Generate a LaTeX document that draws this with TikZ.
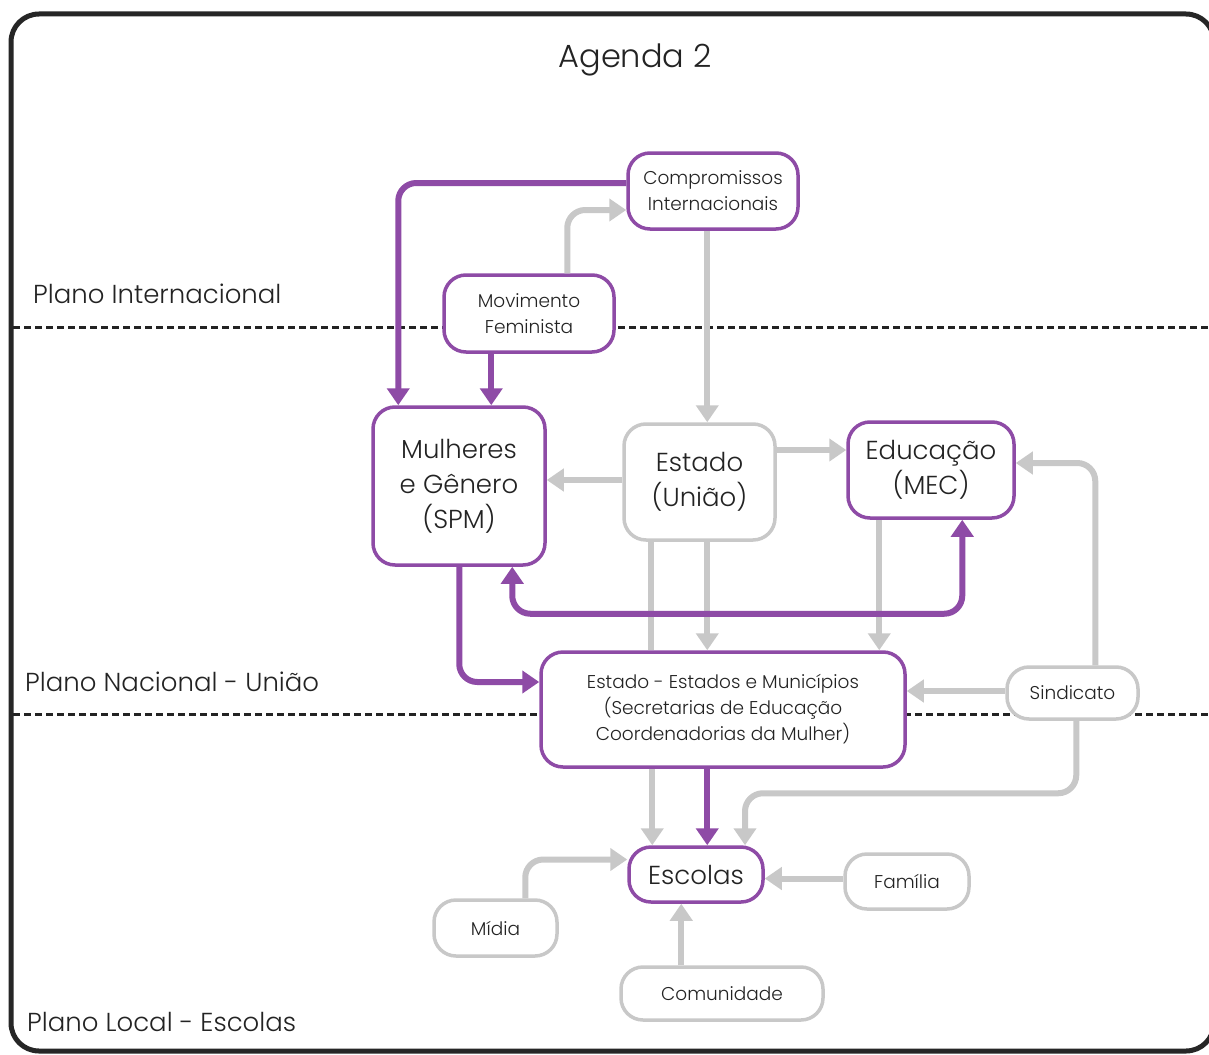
\documentclass[tikz,border=0pt]{standalone}
\usepackage{fontspec}
\setmainfont{Poppins}[UprightFont=* Light]
\usetikzlibrary{arrows.meta,calc}
\definecolor{roxo}{RGB}{142,75,166}
\definecolor{cinza}{RGB}{200,200,200}
\definecolor{texto}{RGB}{35,35,35}
\tikzset{
  box/.style={draw, rounded corners=22pt, line width=3.5pt, fill=white, align=center, text=texto, inner sep=0pt},
  pbox/.style={box, draw=roxo},
  gbox/.style={box, draw=cinza},
  parr/.style={draw=roxo, line width=6pt, rounded corners=18pt, -{Triangle[length=17pt,width=22pt]}},
  garr/.style={draw=cinza, line width=6pt, rounded corners=18pt, -{Triangle[length=17pt,width=22pt]}},
  gline/.style={draw=cinza, line width=6pt},
  small/.style={font=\fontsize{18.5}{26}\selectfont},
  big/.style={font=\fontsize{26}{35}\selectfont},
  plano/.style={font=\fontsize{26}{30}\selectfont, text=texto, anchor=west, inner sep=0pt},
  sep/.style={line width=3pt, dash pattern=on 7pt off 4pt, color=texto}
}
\begin{document}
\begin{tikzpicture}[x=1pt,y=-1pt]
\useasboundingbox (0,0) rectangle (1209,1054);
\fill[white] (0,0) rectangle (1209,1054);
% frame
\draw[line width=5pt, rounded corners=28pt, color=black!85] (11,14) rectangle (1214,1051);
% separators
\draw[sep] (13,327) -- (1209,327);
\draw[sep] (13,714) -- (1209,714);
% titles
\node[font=\fontsize{32}{36}\selectfont, text=texto, inner sep=0pt] (titulo) at (635,60) {Agenda 2};
\node[plano] (pint) at (33,294) {Plano Internacional};
\node[plano] (pnac) at (25,682) {Plano Nacional - União};
\node[plano] (ploc) at (27,1022) {Plano Local - Escolas};
% nodes
\node[pbox, small, minimum width=170pt, minimum height=76pt] (cmp) at (713,191) {Compromissos\\Internacionais};
\node[pbox, small, minimum width=170pt, minimum height=77pt] (mov) at (529,313.5) {Movimento\\Feminista};
\node[pbox, big, minimum width=172pt, minimum height=158pt] (mul) at (459,486) {Mulheres\\e Gênero\\(SPM)};
\node[gbox, big, minimum width=151pt, minimum height=116pt] (est) at (699.5,482) {Estado\\(União)};
\node[pbox, big, minimum width=166pt, minimum height=96pt] (edu) at (931,470) {Educação\\(MEC)};
\node[pbox, small, minimum width=364pt, minimum height=115pt] (ems) at (723,709.5) {Estado - Estados e Municípios\\(Secretarias de Educação\\Coordenadorias da Mulher)};
\node[gbox, small, minimum width=131pt, minimum height=52pt] (sin) at (1072.5,693) {Sindicato};
\node[pbox, big, minimum width=134pt, minimum height=55pt] (esc) at (696,874.5) {Escolas};
\node[gbox, small, minimum width=124pt, minimum height=55pt] (fam) at (907,881.5) {Família};
\node[gbox, small, minimum width=123pt, minimum height=56pt] (mid) at (495.5,928) {Mídia};
\node[gbox, small, minimum width=202pt, minimum height=53pt] (com) at (722,993.5) {Comunidade};
% connectors
\draw[parr] ($(cmp.west)+(0,-8)$) -| ($(mul.north west)+(27,0)$);
\draw[garr] ($(mov.north west)+(125,0)$) |- ($(cmp.west)+(0,19)$);
\draw[parr] ($(mov.south west)+(49,0)$) coordinate (m1) -- (m1 |- mul.north);
\draw[garr] ($(cmp.south west)+(81,0)$) coordinate (c1) -- (c1 |- est.north);
\draw[garr] ($(est.west)+(0,-2)$) coordinate (e1) -- (e1 -| mul.east);
\draw[garr] ($(est.east)+(0,-32)$) coordinate (e2) -- (e2 -| edu.west);
\draw[gline] ($(est.south west)+(29,0)$) coordinate (e3) -- (e3 |- ems.north);
\draw[garr] ($(ems.south west)+(113,0)$) coordinate (e4) -- (e4 |- esc.north);
\draw[garr] ($(est.south west)+(85,0)$) coordinate (e5) -- (e5 |- ems.north);
\draw[garr] ($(edu.south west)+(33,0)$) coordinate (d1) -- (d1 |- ems.north);
\draw[parr, {Triangle[length=17pt,width=22pt]}-{Triangle[length=17pt,width=22pt]}] ($(mul.south west)+(141,0)$) |- ($(edu.south west)+(116,94)$) -- ($(edu.south west)+(116,0)$);
\draw[parr] ($(mul.south west)+(88,0)$) |- ($(ems.west)+(0,-27.5)$);
\draw[garr] ($(sin.north west)+(90,0)$) |- ($(edu.east)+(0,-7)$);
\draw[garr] ($(sin.west)+(0,-2)$) coordinate (s1) -- (s1 -| ems.east);
\draw[garr] ($(sin.south west)+(71,0)$) |- ($(esc.north)+(49,-52)$) -- ($(esc.north)+(49,0)$);
\draw[parr] ($(ems.south west)+(168,0)$) coordinate (e6) -- (e6 |- esc.north);
\draw[garr] ($(fam.west)+(0,-3)$) coordinate (f1) -- (f1 -| esc.east);
\draw[garr] ($(mid.north west)+(93,0)$) |- ($(esc.west)+(0,-15)$);
\draw[garr] ($(com.north west)+(62,0)$) coordinate (k1) -- (k1 |- esc.south);
\end{tikzpicture}
\end{document}
